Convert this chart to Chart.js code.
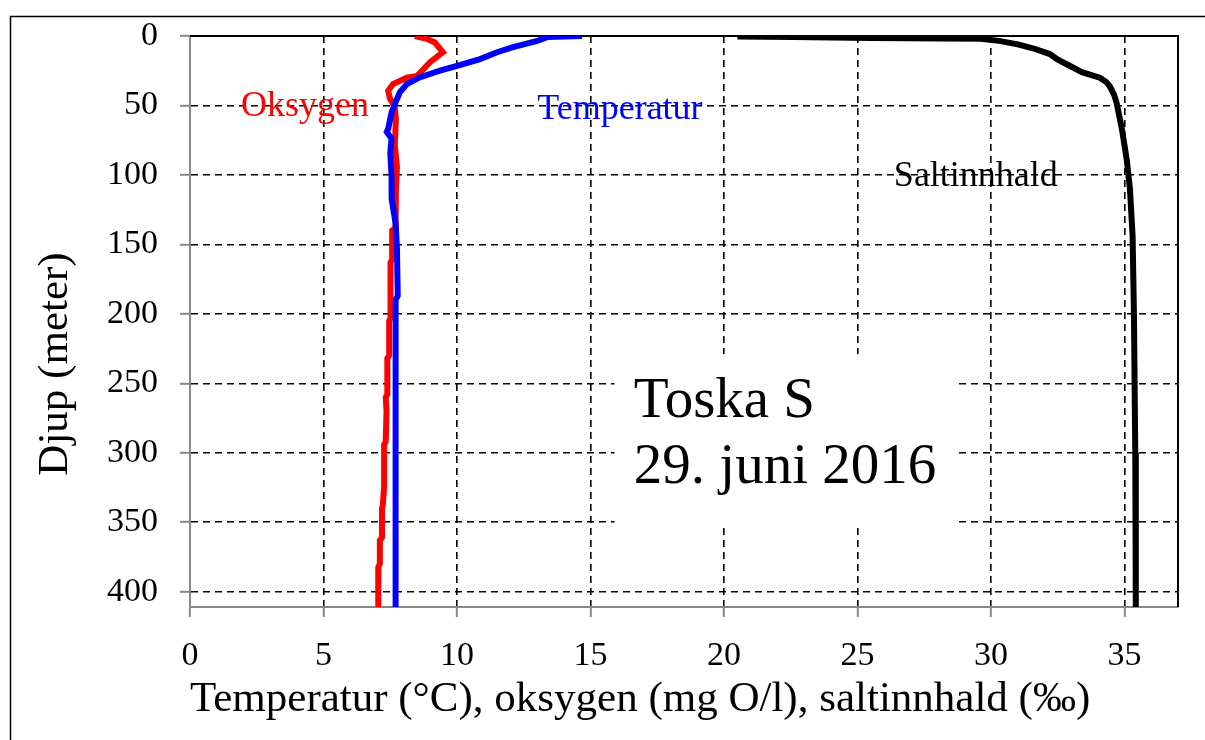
<!DOCTYPE html>
<html>
<head>
<meta charset="utf-8">
<script src="https://cdn.jsdelivr.net/npm/chart.js@4.4.0/dist/chart.umd.min.js"></script>
<style>
  html, body { margin: 0; padding: 0; background: #fff; }
  canvas { display: block; }
</style>
</head>
<body>
<canvas id="chart" width="1205" height="740"></canvas>
<script>
// tick labels
const xTicks = [0, 5, 10, 15, 20, 25, 30, 35];
const depthTicks = [0, 50, 100, 150, 200, 250, 300, 350, 400];

// temperature profile (°C)
const tempDepth = [0, 0.7, 3.6, 8, 11.7, 16.6, 21.5, 25, 29.8, 34.6, 40.5, 49, 55, 67, 69, 74, 84, 101, 117, 135, 153, 187, 190, 411];
const tempVal = [14.68, 13.4, 13.0, 12.1, 11.5, 10.86, 10.0, 9.36, 8.6, 8.12, 7.86, 7.67, 7.55, 7.42, 7.37, 7.55, 7.5, 7.55, 7.55, 7.7, 7.75, 7.78, 7.7, 7.7];

// oxygen profile (mg O/l)
const oxyDepth = [0, 2, 4.6, 11.7, 18.7, 28.8, 30, 34.6, 39.5, 45, 51, 60, 79, 94, 112, 138, 140, 161, 163, 203, 205, 230, 232, 258, 260, 270, 292, 294, 324, 338, 340, 361, 363, 380, 382, 411];
const oxyVal = [8.42, 8.87, 9.17, 9.47, 9.0, 8.5, 8.12, 7.6, 7.42, 7.49, 7.67, 7.71, 7.67, 7.75, 7.71, 7.70, 7.57, 7.57, 7.51, 7.51, 7.46, 7.46, 7.39, 7.39, 7.33, 7.36, 7.33, 7.27, 7.27, 7.22, 7.19, 7.19, 7.11, 7.11, 7.06, 7.05];

// salinity profile (‰)
const saltDepth = [0.4, 0.8, 1.5, 2, 3.5, 6, 9, 13, 17, 20, 26, 30, 33, 36, 42, 48, 67, 89, 110, 144, 200, 300, 411];
const saltVal = [20.5, 22.6, 25.5, 29.6, 30.3, 31.0, 31.6, 32.2, 32.5, 32.8, 33.4, 34.07, 34.3, 34.44, 34.6, 34.7, 34.9, 35.08, 35.2, 35.3, 35.35, 35.4, 35.42];

const seriesNames = ['Oksygen', 'Temperatur', 'Saltinnhald'];
const stationLines = ['Toska S', '29. juni 2016'];

const SERIF = "'Liberation Serif', 'Times New Roman', serif";

function toPoints(vals, depths) {
    return vals.map((v, i) => ({ x: v, y: depths[i] }));
}

// text labels placed in data coordinates
const seriesLabels = [
    { text: seriesNames[0], x: 4.31, y: 57.7, color: '#ff0000' },
    { text: seriesNames[1], x: 16.1, y: 59.8, color: '#0000ff' },
    { text: seriesNames[2], x: 29.43, y: 108, color: '#000000' }
];
const stationPos = { x: 16.62, y: [273.9, 321.4] };
const stationBox = { x0: 15.9, x1: 28.7, y0: 229, y1: 352 };

const overlayPlugin = {
    id: 'overlay',
    beforeDatasetsDraw(chart) {
        const { ctx, chartArea: a, scales: { x, y } } = chart;
        ctx.save();

        // white box behind the station text
        const bx0 = x.getPixelForValue(stationBox.x0);
        const bx1 = x.getPixelForValue(stationBox.x1);
        const by0 = y.getPixelForValue(stationBox.y0);
        const by1 = y.getPixelForValue(stationBox.y1);
        ctx.fillStyle = '#fff';
        ctx.fillRect(bx0, by0, bx1 - bx0, by1 - by0);

        ctx.fillStyle = '#000';
        ctx.font = '57px ' + SERIF;
        ctx.textAlign = 'left';
        ctx.textBaseline = 'alphabetic';
        stationLines.forEach((line, i) => {
            ctx.fillText(line, x.getPixelForValue(stationPos.x), y.getPixelForValue(stationPos.y[i]));
        });

        ctx.font = '36px ' + SERIF;
        ctx.textAlign = 'center';
        seriesLabels.forEach(l => {
            ctx.fillStyle = l.color;
            ctx.fillText(l.text, x.getPixelForValue(l.x), y.getPixelForValue(l.y));
        });

        // top and right frame of the plot area
        ctx.strokeStyle = '#000';
        ctx.lineWidth = 2;
        ctx.beginPath();
        ctx.moveTo(a.left, a.top);
        ctx.lineTo(a.right, a.top);
        ctx.lineTo(a.right, a.bottom);
        ctx.stroke();
        ctx.restore();
    },
    afterDraw(chart) {
        const { ctx } = chart;
        ctx.save();
        // outer frame
        ctx.strokeStyle = '#000';
        ctx.lineWidth = 1.5;
        ctx.beginPath();
        ctx.moveTo(10.5, 740);
        ctx.lineTo(10.5, 16.5);
        ctx.lineTo(1205, 16.5);
        ctx.stroke();

        // y axis title
        ctx.translate(56, 364);
        ctx.rotate(-Math.PI / 2);
        ctx.fillStyle = '#000';
        ctx.font = '43px ' + SERIF;
        ctx.textAlign = 'center';
        ctx.textBaseline = 'middle';
        ctx.fillText('Djup (meter)', 0, 0);
        ctx.restore();
    }
};

const lineStyle = {
    showLine: true,
    borderWidth: 6,
    pointRadius: 0,
    pointHoverRadius: 0,
    tension: 0,
    fill: false
};

new Chart(document.getElementById('chart'), {
    type: 'scatter',
    data: {
        datasets: [
            Object.assign({ label: 'Saltinnhald', data: toPoints(saltVal, saltDepth), borderColor: '#000000' }, lineStyle),
            Object.assign({ label: 'Temperatur', data: toPoints(tempVal, tempDepth), borderColor: '#0000ff' }, lineStyle),
            Object.assign({ label: 'Oksygen', data: toPoints(oxyVal, oxyDepth), borderColor: '#ff0000' }, lineStyle)
        ]
    },
    options: {
        responsive: false,
        animation: false,
        layout: { padding: { top: 36, right: 27, left: 0, bottom: 0 } },
        plugins: {
            legend: { display: false },
            tooltip: { enabled: false }
        },
        scales: {
            x: {
                type: 'linear',
                position: 'bottom',
                min: 0,
                max: 37,
                afterBuildTicks: s => { s.ticks = xTicks.map(v => ({ value: v })); },
                afterFit: s => {
                    s.height = 133;
                    s.paddingLeft = 0;
                    s.paddingRight = 0;
                },
                ticks: {
                    color: '#000',
                    padding: 19,
                    font: { family: SERIF, size: 34 }
                },
                grid: {
                    color: c => (c.tick && c.tick.value === 0 ? 'rgba(0,0,0,0)' : '#000'),
                    lineWidth: 1.6,
                    tickColor: '#888',
                    tickLength: 10,
                    tickWidth: 2
                },
                border: { display: true, color: '#888', width: 2, dash: [7, 5] },
                title: {
                    display: true,
                    text: 'Temperatur (°C), oksygen (mg O/l), saltinnhald (‰)',
                    align: 'start',
                    color: '#000',
                    padding: { top: 0, bottom: 14 },
                    font: { family: SERIF, size: 43 }
                }
            },
            y: {
                type: 'linear',
                position: 'left',
                reverse: true,
                min: 0,
                max: 411,
                afterBuildTicks: s => { s.ticks = depthTicks.map(v => ({ value: v })); },
                afterFit: s => {
                    s.width = 190;
                    s.paddingTop = 0;
                    s.paddingBottom = 0;
                },
                ticks: {
                    color: '#000',
                    padding: 22,
                    font: { family: SERIF, size: 34 }
                },
                grid: {
                    color: '#000',
                    lineWidth: 1.6,
                    tickColor: '#888',
                    tickLength: 10,
                    tickWidth: 2
                },
                border: { display: true, color: '#888', width: 2, dash: [7, 5] }
            }
        }
    },
    plugins: [overlayPlugin]
});
</script>
</body>
</html>
